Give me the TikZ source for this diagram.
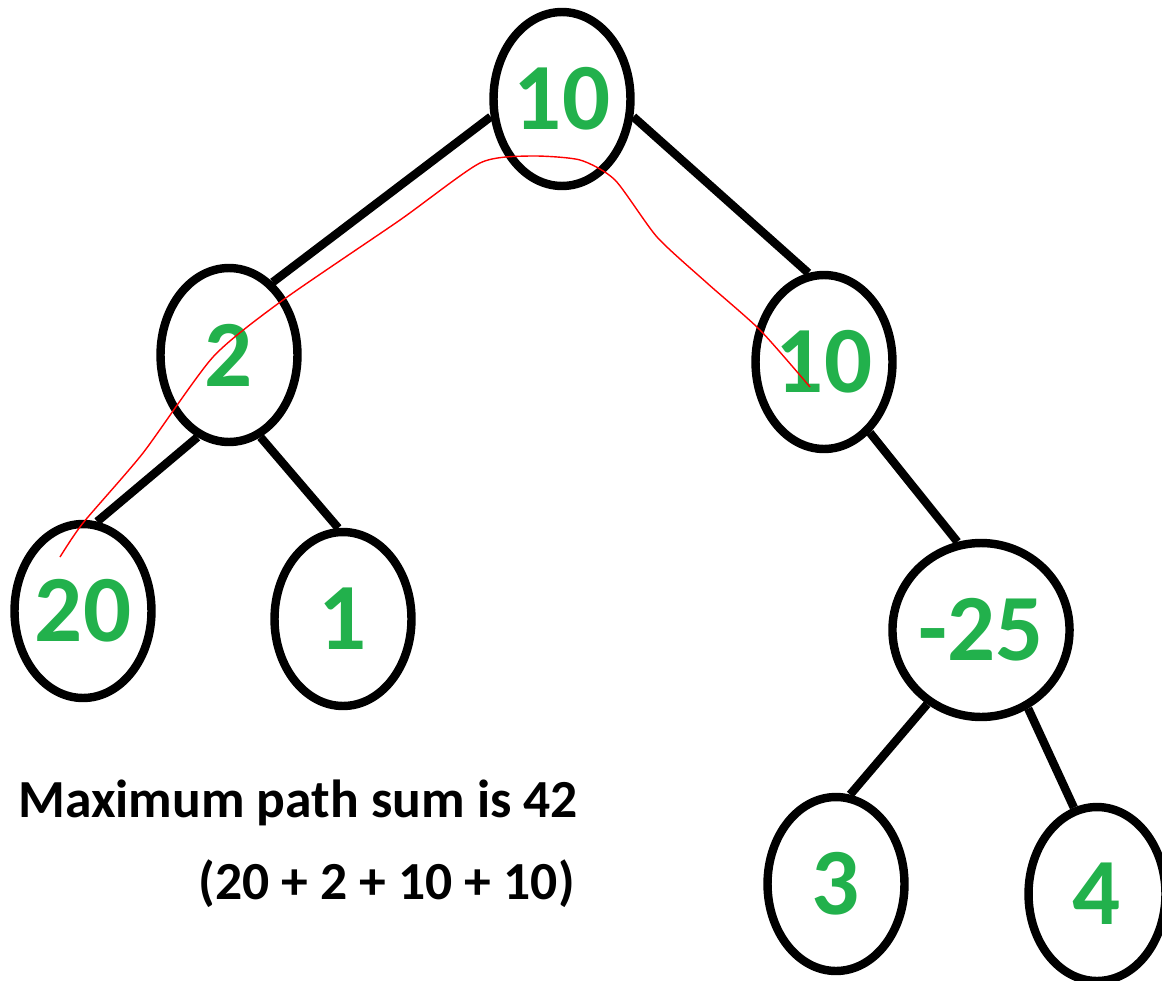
\documentclass[tikz,border=0pt]{standalone}
\usepackage{fontspec}
\setmainfont{Carlito}
\usetikzlibrary{shapes.geometric}
\definecolor{paintgreen}{RGB}{34,177,76}
\tikzset{
	vertex/.style={shape=ellipse, draw, line width=4.8pt, minimum width=2.74cm, minimum height=3.48cm, inner sep=0pt, text=paintgreen, font=\fontsize{54}{54}\selectfont\bfseries},
	branch/.style={line width=4.8pt},
	caption/.style={font=\fontsize{30.5}{36}\selectfont\bfseries, inner sep=0pt}
}

\begin{document}
\begin{tikzpicture}[x=0.02cm, y=-0.02cm]
	\useasboundingbox (0, 0) rectangle (1162, 980);
	% Nodes:
	\node[vertex] (root) at (562, 99){10};
	\node[vertex] (two) at (229, 355){2};
	\node[vertex] (ten) at (824, 362){10};
	\node[vertex] (twenty) at (83, 611){20};
	\node[vertex] (one) at (343, 619){1};
	\node[vertex] (minus) at (981, 630){-25};
	\node[vertex] (three) at (836, 884){3};
	\node[vertex] (four) at (1097, 894){4};
	% Edges:
	\draw[branch] (root.194) -- (two.59);
	\draw[branch] (root.-14) -- (ten.100);
	\draw[branch] (two.249) -- (twenty.81);
	\draw[branch] (two.-69) -- (one.93);
	\draw[branch] (ten.-57) -- (minus.105);
	\draw[branch] (minus.234) -- (three.81);
	\draw[branch] (minus.-59) -- (four.105);
	% Path of the maximum sum:
	\draw[red, line width=0.8pt] plot[smooth, tension=0.4] coordinates {(60, 557) (83, 523) (143, 453) (213, 357) (283, 300) (400, 220) (480, 163) (530, 156) (580, 160) (615, 180) (657, 237) (707, 283) (760, 330) (810, 387)};
	% Text:
	\node[caption, anchor=base west] (result) at (18, 817){Maximum path sum is 42};
	\node[caption, anchor=base east] (terms) at (575, 899){(20 + 2 + 10 + 10)};
\end{tikzpicture}
\end{document}
